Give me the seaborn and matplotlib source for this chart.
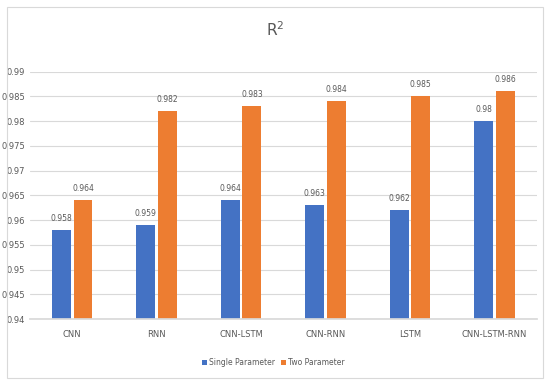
import pandas as pd
import seaborn as sns
import matplotlib.pyplot as plt
from matplotlib.patches import Rectangle

# chart data
models = ["CNN", "RNN", "CNN-LSTM", "CNN-RNN", "LSTM", "CNN-LSTM-RNN"]
single_param = [0.958, 0.959, 0.964, 0.963, 0.962, 0.980]
two_param = [0.964, 0.982, 0.983, 0.984, 0.985, 0.986]
series_names = ["Single Parameter", "Two Parameter"]
y_ticks = [0.94, 0.945, 0.95, 0.955, 0.96, 0.965, 0.97, 0.975, 0.98, 0.985, 0.99]
y_tick_labels = ["0.94", "0.945", "0.95", "0.955", "0.96", "0.965", "0.97", "0.975", "0.98", "0.985", "0.99"]

df = pd.DataFrame({
    "model": models * 2,
    "series": [series_names[0]] * len(models) + [series_names[1]] * len(models),
    "value": single_param + two_param,
})

sns.set_theme(style="white")
plt.rcParams["font.family"] = ["Liberation Sans Narrow", "DejaVu Sans"]
text_color = "#595959"

fig = plt.figure(figsize=(5.5, 3.85), dpi=100)
# outer chart border
fig.patches.append(Rectangle((7 / 550, 7 / 385), 536 / 550, 371 / 385, transform=fig.transFigure,
                             fill=False, edgecolor="#d9d9d9", linewidth=0.8))
ax = fig.add_axes([0.0545, 0.1714, 0.9215, 0.6426])

sns.barplot(data=df, x="model", y="value", hue="series", order=models,
            palette=["#4472C4", "#ED7D31"], width=0.51, gap=0.12,
            saturation=1, linewidth=0, ax=ax, legend=True)

ax.set_ylim(0.94, 0.99)
ax.set_yticks(y_ticks)
ax.set_yticklabels(y_tick_labels)
ax.yaxis.grid(True, color="#d9d9d9", linewidth=0.8)
ax.set_axisbelow(True)
for s in ["top", "right", "left"]:
    ax.spines[s].set_visible(False)
ax.spines["bottom"].set_color("#d9d9d9")
ax.tick_params(axis="both", length=0, labelsize=6, colors=text_color)
ax.tick_params(axis="x", pad=8)
ax.set_xlabel("")
ax.set_ylabel("")

for cont in ax.containers:
    ax.bar_label(cont, labels=[f"{v:g}" for v in cont.datavalues],
                 padding=5, fontsize=5.5, color=text_color)

ax.legend(loc="center", bbox_to_anchor=(0.48, -0.175), ncol=2, frameon=False,
          fontsize=5.5, handlelength=0.6, handleheight=0.6, handletextpad=0.3,
          columnspacing=0.8, labelcolor=text_color)

fig.text(0.5, 1 - 30 / 385, "R$^2$", ha="center", va="center", fontsize=11, color=text_color)

fig.savefig("out.png", dpi=100)
